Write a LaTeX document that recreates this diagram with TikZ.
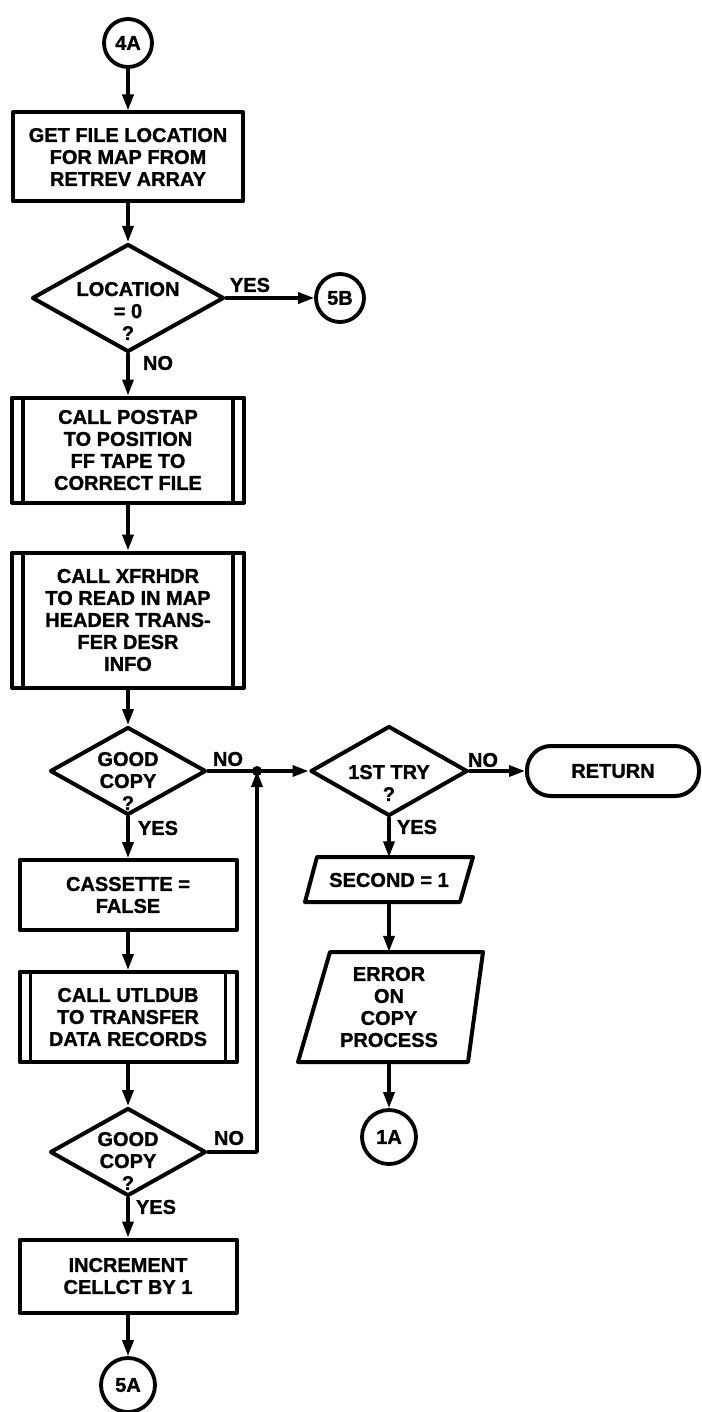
\documentclass[tikz,border=0pt]{standalone}
\usepackage{fontspec}
\setmainfont{Liberation Sans}[BoldFeatures={FakeBold=1.3}]
\usetikzlibrary{shapes.geometric,arrows.meta}
\begin{document}
\begin{tikzpicture}[x=1pt,y=-1pt,line join=round,line cap=round,
	>={Triangle[length=16pt,width=11pt]},
	font=\bfseries\fontsize{20}{22}\selectfont,
	box/.style={draw,line width=4pt,rectangle,align=center,inner sep=0pt},
	subbox/.style={box,path picture={
		\draw[line width=3.4pt] ([xshift=11pt]path picture bounding box.north west) -- ([xshift=11pt]path picture bounding box.south west)
		([xshift=-11pt]path picture bounding box.north east) -- ([xshift=-11pt]path picture bounding box.south east);}},
	dia/.style={draw,line width=4pt,diamond,inner sep=0pt},
	conn/.style={draw,line width=3.8pt,circle,inner sep=0pt},
	term/.style={draw,line width=4pt,rounded corners=24pt,inner sep=0pt},
	txt/.style={align=center,inner sep=0pt},
	lbl/.style={inner sep=0pt},
	flow/.style={->,line width=3.4pt}]
	\useasboundingbox (0,0) rectangle (701,1412);
	% Cot chinh
	\node[conn,minimum size=48pt] (c4A) at (128,43) {4A};
	\node[box,minimum width=230pt,minimum height=89pt] (getloc) at (128,157) {GET FILE LOCATION\\FOR MAP FROM\\RETREV ARRAY};
	\node[dia,minimum width=192pt,minimum height=108pt] (loc) at (128,298) {};
	\node[txt] (loctxt) at (128,311) {LOCATION\\= 0\\?};
	\node[conn,minimum size=48pt] (c5B) at (340,298) {5B};
	\node[subbox,minimum width=232pt,minimum height=105pt] (postap) at (128,450) {CALL POSTAP\\TO POSITION\\FF TAPE TO\\CORRECT FILE};
	\node[subbox,minimum width=232pt,minimum height=135pt] (xfrhdr) at (128,620) {CALL XFRHDR\\TO READ IN MAP\\HEADER TRANS-\\FER DESR\\INFO};
	\node[dia,minimum width=156pt,minimum height=88pt] (good1) at (128,771) {};
	\node[txt] (good1txt) at (128,781) {GOOD\\COPY\\?};
	\node[box,minimum width=217pt,minimum height=70pt] (cass) at (128,895) {CASSETTE =\\FALSE};
	\node[subbox,minimum width=217pt,minimum height=90pt] (utldub) at (128,1017) {CALL UTLDUB\\TO TRANSFER\\DATA RECORDS};
	\node[dia,minimum width=156pt,minimum height=88pt] (good2) at (128,1152) {};
	\node[txt] (good2txt) at (128,1161) {GOOD\\COPY\\?};
	\node[box,minimum width=217pt,minimum height=73pt] (incr) at (128,1276) {INCREMENT\\CELLCT BY 1};
	\node[conn,minimum size=54pt] (c5A) at (128,1385) {5A};
	% Cot phai
	\node[dia,minimum width=157pt,minimum height=90pt] (try1) at (389,771) {};
	\node[txt] (try1txt) at (389,783) {1ST TRY\\?};
	\node[term,minimum width=172pt,minimum height=50pt] (ret) at (613,771) {RETURN};
	\draw[line width=4pt] (317,857) -- (473,857) -- (460,902) -- (305,902) -- cycle;
	\node[txt,minimum height=45pt] (second) at (389,880) {SECOND = 1};
	\draw[line width=4pt] (330,952) -- (483,952) -- (468,1062) -- (298,1062) -- cycle;
	\node[txt,minimum height=110pt] (err) at (389,1007) {ERROR\\ON\\COPY\\PROCESS};
	\node[conn,minimum size=54pt] (c1A) at (389,1137) {1A};
	\coordinate (j) at (257,771);
	% Cac mui ten
	\draw[flow] (c4A) -- (getloc);
	\draw[flow] (getloc) -- (loc);
	\draw[flow] (loc) -- (c5B);
	\draw[flow] (loc) -- (postap);
	\draw[flow] (postap) -- (xfrhdr);
	\draw[flow] (xfrhdr) -- (good1);
	\draw[flow] (good1) -- (cass);
	\draw[flow] (cass) -- (utldub);
	\draw[flow] (utldub) -- (good2);
	\draw[flow] (good2) -- (incr);
	\draw[flow] (incr) -- (c5A);
	\draw[line width=3.4pt] (good1.east) -- (j);
	\draw[flow] (j) -- (try1.west);
	\draw[flow] (good2.east) -- (good2.east -| j) -- (j);
	\fill (j) circle (5pt);
	\draw[flow] (try1) -- (ret);
	\draw[flow] (try1) -- (second);
	\draw[flow] (second) -- (err);
	\draw[flow] (err) -- (c1A);
	\foreach \n/\x/\y/\t in {yes1/250/285/YES,no1/158/363/NO,no2/228/759/NO,yes2/158/828/YES,
		no3/483/760/NO,yes3/417/827/YES,no4/229/1138/NO,yes4/156/1207/YES}{
		\node[lbl] (\n) at (\x,\y) {\t};
	}
\end{tikzpicture}
\end{document}
